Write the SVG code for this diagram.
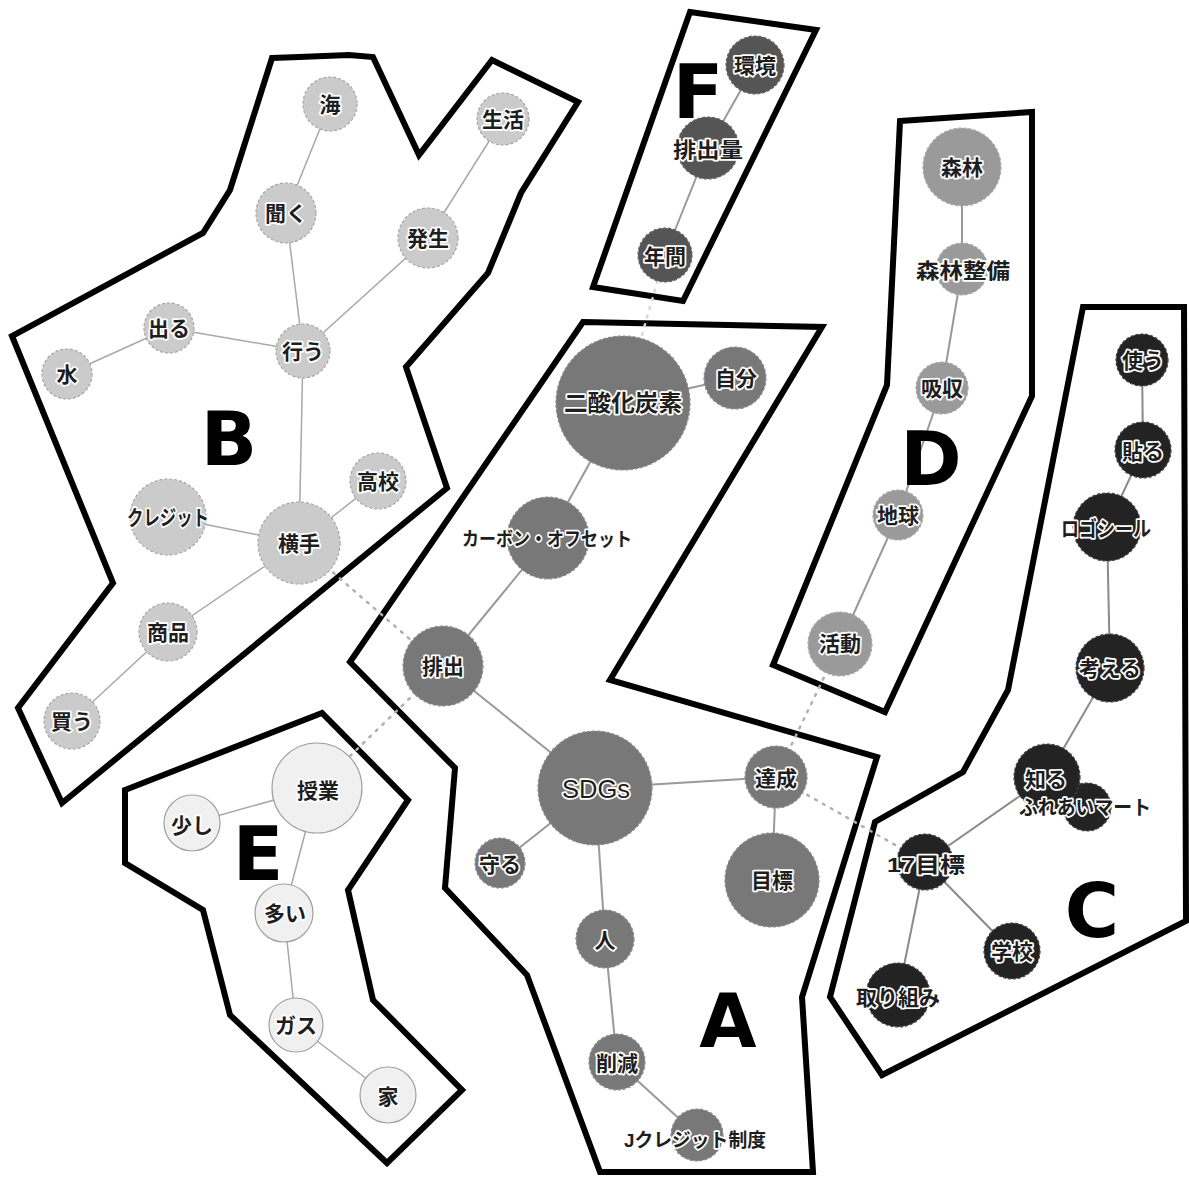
<svg xmlns="http://www.w3.org/2000/svg" width="1189" height="1178" viewBox="0 0 1189 1178">
<style>
.bg{fill:#ffffff}
.grp{fill:none;stroke:#000;stroke-width:6;stroke-linejoin:miter}
.e{stroke:#a8a8a8;stroke-width:1.5;fill:none}
.eA{stroke:#999;stroke-width:2}
.eC{stroke:#8a8a8a;stroke-width:2}
.d{stroke:#b0b0b0;stroke-width:2.5;stroke-dasharray:2 7;stroke-linecap:round;fill:none}
.nA circle{fill:#787878;stroke:#8c8c8c;stroke-width:1.2;stroke-dasharray:3 2}
.nB circle{fill:#cbcbcb;stroke:#a5a5a5;stroke-width:1.2;stroke-dasharray:3 2}
.nC circle{fill:#232323;stroke:#444;stroke-width:1.2;stroke-dasharray:3 2}
.nD circle{fill:#9a9a9a;stroke:#aaa;stroke-width:1.2;stroke-dasharray:3 2}
.nE circle{fill:#f0f0f0;stroke:#a0a0a0;stroke-width:1.2}
.nF circle{fill:#555;stroke:#666;stroke-width:1.2;stroke-dasharray:3 2}
text.l{font-family:"Liberation Sans","Noto Sans CJK JP",sans-serif;font-size:21px;font-weight:bold;fill:#1e1e1e;stroke:#fff;stroke-width:3.5;paint-order:stroke;stroke-linejoin:round;text-anchor:middle;dominant-baseline:central}
text.big{font-family:"DejaVu Sans",sans-serif;font-weight:bold;font-size:74px;fill:#000;text-anchor:middle}
</style>
<rect class="bg" x="0" y="0" width="1189" height="1178"/>

<g id="groups">
<polygon id="grp-B" class="grp" points="272,58 299,57 349,55 373,57 419,155 492,60 578,102 521,193 488,273 406,367 447,488 62,803 18,708 113,583 12,336 203,233 230,190"/>
<polygon id="grp-E" class="grp" points="125,790 322,713 408,800 348,890 373,1000 462,1090 387,1163 230,1015 203,910 125,863"/>
<polygon id="grp-A" class="grp" points="583,322 822,327 610,680 877,757 802,997 813,1172 600,1172 527,975 445,888 455,768 350,662"/>
<polygon id="grp-F" class="grp" points="690,12 816,30 683,301 593,287"/>
<polygon id="grp-D" class="grp" points="900,121 1032,112 1032,396 885,712 773,665 887,385"/>
<polygon id="grp-C" class="grp" points="1083,307 1184,307 1186,921 882,1075 830,997 875,822 963,772 1008,690"/>
</g>

<g id="connectors">
<line class="d" x1="299" y1="543" x2="442" y2="667"/>
<line class="d" x1="442" y1="667" x2="317" y2="788"/>
<line class="d" x1="776" y1="777" x2="840" y2="644"/>
<line class="d" x1="776" y1="777" x2="925" y2="862"/>
<line class="d" x1="665" y1="255" x2="622" y2="404" style="stroke:#d8d8d8"/>
<line class="e" x1="330" y1="104" x2="286" y2="213"/>
<line class="e" x1="286" y1="213" x2="303" y2="351"/>
<line class="e" x1="503" y1="119" x2="428" y2="238"/>
<line class="e" x1="428" y1="238" x2="303" y2="351"/>
<line class="e" x1="169" y1="328" x2="303" y2="351"/>
<line class="e" x1="67" y1="374" x2="169" y2="328"/>
<line class="e" x1="303" y1="351" x2="299" y2="543"/>
<line class="e" x1="378" y1="481" x2="299" y2="543"/>
<line class="e" x1="168" y1="517" x2="299" y2="543"/>
<line class="e" x1="299" y1="543" x2="168" y2="632"/>
<line class="e" x1="168" y1="632" x2="72" y2="721"/>
<line class="e eA" x1="755" y1="65" x2="708" y2="148"/>
<line class="e eA" x1="708" y1="148" x2="665" y2="255"/>
<line class="e eA" x1="962" y1="167" x2="962" y2="269"/>
<line class="e eA" x1="962" y1="269" x2="942" y2="388"/>
<line class="e eA" x1="942" y1="388" x2="898" y2="515"/>
<line class="e eA" x1="898" y1="515" x2="840" y2="644"/>
<line class="e eC" x1="1142" y1="360" x2="1143" y2="450"/>
<line class="e eC" x1="1143" y1="450" x2="1107" y2="527"/>
<line class="e eC" x1="1107" y1="527" x2="1110" y2="668"/>
<line class="e eC" x1="1110" y1="668" x2="1047" y2="777"/>
<line class="e eC" x1="1047" y1="777" x2="925" y2="862"/>
<line class="e eC" x1="925" y1="862" x2="1012" y2="951"/>
<line class="e eC" x1="925" y1="862" x2="898" y2="995"/>
<line class="e eA" x1="735" y1="378" x2="623" y2="403"/>
<line class="e eA" x1="623" y1="403" x2="548" y2="538"/>
<line class="e eA" x1="548" y1="538" x2="443" y2="666"/>
<line class="e eA" x1="443" y1="666" x2="595" y2="788"/>
<line class="e eA" x1="595" y1="788" x2="776" y2="777"/>
<line class="e eA" x1="776" y1="777" x2="772" y2="880"/>
<line class="e eA" x1="595" y1="788" x2="500" y2="863"/>
<line class="e eA" x1="595" y1="788" x2="605" y2="939"/>
<line class="e eA" x1="605" y1="939" x2="617" y2="1062"/>
<line class="e eA" x1="617" y1="1062" x2="697" y2="1135"/>
<line class="e" x1="192" y1="823" x2="317" y2="788"/>
<line class="e" x1="317" y1="788" x2="284" y2="913"/>
<line class="e" x1="284" y1="913" x2="296" y2="1025"/>
<line class="e" x1="296" y1="1025" x2="388" y2="1095"/>
</g>

<g id="nodes">
<g id="n-umi" class="nB"><circle cx="330" cy="104" r="27"/><text class="l" x="330" y="104">海</text></g>
<g id="n-seikatsu" class="nB"><circle cx="503" cy="119" r="26"/><text class="l" x="503" y="119">生活</text></g>
<g id="n-kiku" class="nB"><circle cx="286" cy="213" r="30"/><text class="l" x="286" y="213">聞く</text></g>
<g id="n-hassei" class="nB"><circle cx="428" cy="238" r="30"/><text class="l" x="428" y="238">発生</text></g>
<g id="n-deru" class="nB"><circle cx="169" cy="328" r="25"/><text class="l" x="169" y="328">出る</text></g>
<g id="n-mizu" class="nB"><circle cx="67" cy="374" r="25"/><text class="l" x="67" y="374">水</text></g>
<g id="n-okonau" class="nB"><circle cx="303" cy="351" r="27"/><text class="l" x="303" y="351">行う</text></g>
<g id="n-koukou" class="nB"><circle cx="378" cy="481" r="28"/><text class="l" x="378" y="481">高校</text></g>
<g id="n-credit" class="nB"><circle cx="168" cy="517" r="38"/><text class="l" x="168" y="517" textLength="82" lengthAdjust="spacingAndGlyphs">クレジット</text></g>
<g id="n-yokote" class="nB"><circle cx="299" cy="543" r="41"/><text class="l" x="299" y="543">横手</text></g>
<g id="n-shouhin" class="nB"><circle cx="168" cy="632" r="29"/><text class="l" x="168" y="632">商品</text></g>
<g id="n-kau" class="nB"><circle cx="72" cy="721" r="28"/><text class="l" x="72" y="721">買う</text></g>

<g id="n-kankyou" class="nF"><circle cx="755" cy="65" r="29"/><text class="l" x="755" y="65">環境</text></g>
<g id="n-haishutsuryou" class="nF"><circle cx="708" cy="148" r="31"/><text class="l" x="708" y="149" textLength="70" lengthAdjust="spacingAndGlyphs">排出量</text></g>
<g id="n-nenkan" class="nF"><circle cx="665" cy="255" r="27"/><text class="l" x="665" y="256">年間</text></g>

<g id="n-shinrin" class="nD"><circle cx="962" cy="167" r="39"/><text class="l" x="962" y="167">森林</text></g>
<g id="n-shinrinseibi" class="nD"><circle cx="962" cy="269" r="26"/><text class="l" x="963" y="270" textLength="94" lengthAdjust="spacingAndGlyphs">森林整備</text></g>
<g id="n-kyuushuu" class="nD"><circle cx="942" cy="388" r="26"/><text class="l" x="942" y="388">吸収</text></g>
<g id="n-chikyuu" class="nD"><circle cx="898" cy="515" r="25"/><text class="l" x="898" y="515">地球</text></g>
<g id="n-katsudou" class="nD"><circle cx="840" cy="644" r="32"/><text class="l" x="840" y="643">活動</text></g>

<g id="n-tsukau" class="nC"><circle cx="1142" cy="360" r="26"/><text class="l" x="1143" y="360">使う</text></g>
<g id="n-haru" class="nC"><circle cx="1143" cy="450" r="28"/><text class="l" x="1143" y="451">貼る</text></g>
<g id="n-logoseal" class="nC"><circle cx="1107" cy="527" r="34"/><text class="l" x="1106" y="528" textLength="90" lengthAdjust="spacingAndGlyphs">ロゴシール</text></g>
<g id="n-kangaeru" class="nC"><circle cx="1110" cy="668" r="34"/><text class="l" x="1110" y="668" textLength="62" lengthAdjust="spacingAndGlyphs">考える</text></g>
<g id="n-fureai" class="nC"><circle cx="1087" cy="807" r="24"/></g>
<g id="n-shiru" class="nC"><circle cx="1047" cy="777" r="33"/><text class="l" x="1046" y="779">知る</text></g>
<g id="n-fureai-label"><text class="l" x="1085" y="808" style="font-size:20px" textLength="132" lengthAdjust="spacingAndGlyphs">ふれあいマート</text></g>
<g id="n-17mokuhyou" class="nC"><circle cx="925" cy="862" r="28"/><text class="l" x="926" y="864" textLength="78" lengthAdjust="spacingAndGlyphs">17目標</text></g>
<g id="n-gakkou" class="nC"><circle cx="1012" cy="951" r="28"/><text class="l" x="1012" y="951">学校</text></g>
<g id="n-torikumi" class="nC"><circle cx="898" cy="995" r="32"/><text class="l" x="898" y="997" textLength="84" lengthAdjust="spacingAndGlyphs">取り組み</text></g>

<g id="n-co2" class="nA"><circle cx="623" cy="403" r="67"/><text class="l" x="623" y="403" style="font-size:23px" textLength="118" lengthAdjust="spacingAndGlyphs">二酸化炭素</text></g>
<g id="n-jibun" class="nA"><circle cx="735" cy="378" r="31"/><text class="l" x="736" y="378">自分</text></g>
<g id="n-carbon" class="nA"><circle cx="548" cy="538" r="41"/><text class="l" x="547" y="539" style="font-size:19px" textLength="170" lengthAdjust="spacingAndGlyphs">カーボン・オフセット</text></g>
<g id="n-haishutsu" class="nA"><circle cx="443" cy="666" r="40"/><text class="l" x="443" y="666">排出</text></g>
<g id="n-sdgs" class="nA"><circle cx="595" cy="788" r="57"/><text class="l" x="596" y="789" style="font-size:26px;font-weight:normal" textLength="68" lengthAdjust="spacingAndGlyphs">SDGs</text></g>
<g id="n-tassei" class="nA"><circle cx="776" cy="777" r="31"/><text class="l" x="776" y="778">達成</text></g>
<g id="n-mokuhyou" class="nA"><circle cx="772" cy="880" r="47"/><text class="l" x="772" y="880">目標</text></g>
<g id="n-mamoru" class="nA"><circle cx="500" cy="863" r="25"/><text class="l" x="500" y="864">守る</text></g>
<g id="n-hito" class="nA"><circle cx="605" cy="939" r="29"/><text class="l" x="605" y="940">人</text></g>
<g id="n-sakugen" class="nA"><circle cx="617" cy="1062" r="28"/><text class="l" x="617" y="1063">削減</text></g>
<g id="n-jcredit" class="nA"><circle cx="697" cy="1135" r="26"/><text class="l" x="695" y="1140" style="font-size:19px" textLength="142" lengthAdjust="spacingAndGlyphs">Jクレジット制度</text></g>

<g id="n-jugyou" class="nE"><circle cx="317" cy="788" r="45"/><text class="l" x="318" y="790">授業</text></g>
<g id="n-sukoshi" class="nE"><circle cx="192" cy="823" r="28"/><text class="l" x="192" y="825">少し</text></g>
<g id="n-ooi" class="nE"><circle cx="284" cy="913" r="29"/><text class="l" x="285" y="913">多い</text></g>
<g id="n-gas" class="nE"><circle cx="296" cy="1025" r="27"/><text class="l" x="296" y="1025">ガス</text></g>
<g id="n-ie" class="nE"><circle cx="388" cy="1095" r="28"/><text class="l" x="388" y="1096">家</text></g>
</g>

<g id="labels">
<text class="big" x="728" y="1047">A</text>
<text class="big" x="229" y="465">B</text>
<text class="big" x="1092" y="937">C</text>
<text class="big" x="931" y="485">D</text>
<text class="big" x="258" y="880">E</text>
<text class="big" x="698" y="118">F</text>
</g>
</svg>
